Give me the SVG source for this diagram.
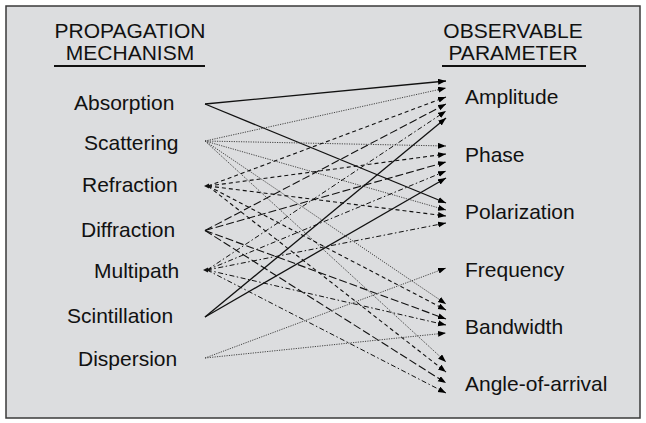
<svg xmlns="http://www.w3.org/2000/svg" width="646" height="423" viewBox="0 0 646 423">
<style>
text{font-family:"Liberation Sans",Arial,sans-serif;font-size:21px;fill:#111}
.hd{text-anchor:middle}
.c line{fill:none;marker-end:url(#ah)}
.solid{stroke:#111;stroke-width:1.3}
.dot{stroke:#444;stroke-width:1;stroke-dasharray:1.2 1.2}
.dash{stroke:#111;stroke-width:1.1;stroke-dasharray:4 3}
.ldash{stroke:#111;stroke-width:1.1;stroke-dasharray:8 3}
.dd{stroke:#111;stroke-width:1;stroke-dasharray:5 2.5 1.5 2.5}
</style>
<defs>
<marker id="ah" markerUnits="userSpaceOnUse" markerWidth="10" markerHeight="8" refX="8" refY="3" orient="auto">
<path d="M0,0 L8,3 L0,6 Z" fill="#000"/>
</marker>
</defs>
<rect x="6" y="6" width="634" height="412" fill="#dcdddf" stroke="#3a3a3a" stroke-width="1.5"/>
<g id="header-left">
<text class="hd" x="130" y="37.5">PROPAGATION</text>
<text class="hd" x="130" y="60">MECHANISM</text>
<line x1="54" y1="66" x2="205" y2="66" stroke="#111" stroke-width="1.8"/>
</g>
<g id="header-right">
<text class="hd" x="513" y="37.5">OBSERVABLE</text>
<text class="hd" x="513" y="60">PARAMETER</text>
<line x1="442" y1="66" x2="586" y2="66" stroke="#111" stroke-width="1.8"/>
</g>
<g id="absorption"><text x="74" y="110">Absorption</text></g>
<g id="scattering"><text x="84" y="150">Scattering</text></g>
<g id="refraction"><text x="82" y="192">Refraction</text></g>
<g id="diffraction"><text x="81" y="237">Diffraction</text></g>
<g id="multipath"><text x="94" y="278">Multipath</text></g>
<g id="scintillation"><text x="67" y="323">Scintillation</text></g>
<g id="dispersion"><text x="78" y="366">Dispersion</text></g>
<g id="amplitude"><text x="465" y="104">Amplitude</text></g>
<g id="phase"><text x="465" y="161.5">Phase</text></g>
<g id="polarization"><text x="465" y="219">Polarization</text></g>
<g id="frequency"><text x="465" y="276.5">Frequency</text></g>
<g id="bandwidth"><text x="465" y="334">Bandwidth</text></g>
<g id="angle-of-arrival"><text x="465" y="391">Angle-of-arrival</text></g>
<g id="connectors" class="c">
<line class="solid" x1="205" y1="104" x2="446" y2="81"/>
<line class="solid" x1="205" y1="104" x2="446" y2="203"/>
<line class="dot" x1="205" y1="141" x2="446" y2="88"/>
<line class="dot" x1="205" y1="141" x2="446" y2="146"/>
<line class="dot" x1="205" y1="141" x2="446" y2="210"/>
<line class="dot" x1="205" y1="141" x2="446" y2="304"/>
<line class="dot" x1="205" y1="141" x2="446" y2="362"/>
<line class="dash" x1="208" y1="186" x2="446" y2="97"/>
<line class="dash" x1="208" y1="186" x2="446" y2="154"/>
<line class="dash" x1="208" y1="186" x2="446" y2="216"/>
<line class="dash" x1="208" y1="186" x2="446" y2="310"/>
<line class="dash" x1="208" y1="186" x2="446" y2="372"/>
<line class="ldash" x1="205" y1="230.5" x2="446" y2="104"/>
<line class="ldash" x1="205" y1="230.5" x2="446" y2="162"/>
<line class="ldash" x1="205" y1="230.5" x2="446" y2="319"/>
<line class="ldash" x1="205" y1="230.5" x2="446" y2="383"/>
<line class="dd" x1="207" y1="270" x2="446" y2="111"/>
<line class="dd" x1="207" y1="270" x2="446" y2="171"/>
<line class="dd" x1="207" y1="270" x2="446" y2="223"/>
<line class="dd" x1="207" y1="270" x2="446" y2="325"/>
<line class="dd" x1="207" y1="270" x2="446" y2="393"/>
<line class="solid" x1="205" y1="317" x2="446" y2="118"/>
<line class="solid" x1="205" y1="317" x2="446" y2="178"/>
<line class="dot" x1="205" y1="358" x2="446" y2="268"/>
<line class="dot" x1="205" y1="358" x2="446" y2="333"/>
<path d="M204,186 L209,183.5 L209,188.5 Z" fill="#111"/>
<path d="M203,270 L208,267.5 L208,272.5 Z" fill="#111"/>
</g>
</svg>
